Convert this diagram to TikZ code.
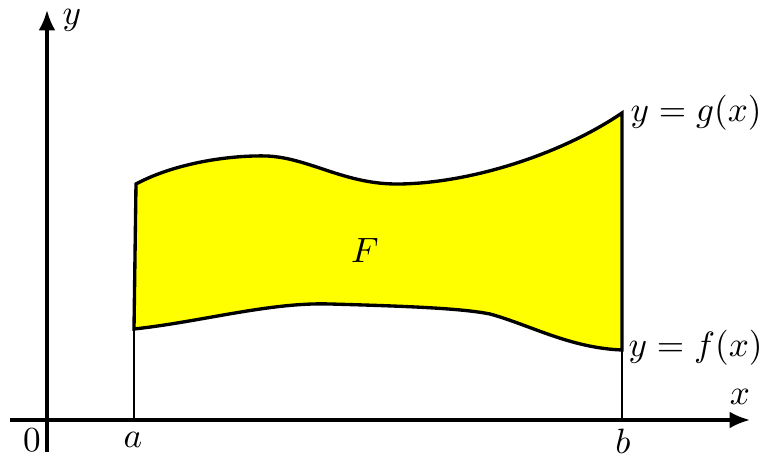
\documentclass[tikz,border=0pt]{standalone}
\usetikzlibrary{arrows.meta}
\definecolor{fillyel}{RGB}{255,255,0}
\begin{document}
\begin{tikzpicture}[x=0.01cm,y=-0.01cm,
  axis/.style={line width=0.95pt,-{Latex[length=5.8pt,width=4.8pt]}},
  curve/.style={line width=0.95pt},
  guide/.style={line width=0.3pt},
  lbl/.style={inner sep=0pt}]
\useasboundingbox (0,0) rectangle (759,455);
\coordinate (tl) at (136,184);
\coordinate (bl) at (134,329);
\coordinate (tr) at (622,113);
\coordinate (br) at (622,350);
\coordinate (xa) at (134,420);
\coordinate (xb) at (622,420);
\fill[fillyel] (tl) .. controls (175,163) and (230,155) .. (267,156)
  .. controls (310,158) and (345,185) .. (400,184)
  .. controls (470,183) and (560,155) .. (tr)
  -- (br) .. controls (570,348) and (530,325) .. (490,314)
  .. controls (460,308) and (400,306) .. (330,304)
  .. controls (270,302) and (200,322) .. (bl) -- cycle;
\draw[guide] (bl) -- (xa);
\draw[guide] (br) -- (xb);
\draw[curve] (tl) .. controls (175,163) and (230,155) .. (267,156)
  .. controls (310,158) and (345,185) .. (400,184)
  .. controls (470,183) and (560,155) .. (tr)
  -- (br) .. controls (570,348) and (530,325) .. (490,314)
  .. controls (460,308) and (400,306) .. (330,304)
  .. controls (270,302) and (200,322) .. (bl) -- cycle;
\coordinate (xs) at (10,420);
\coordinate (xe) at (750,420);
\coordinate (ys) at (47,452);
\coordinate (ye) at (47,10);
\draw[axis] (xs) -- (xe);
\draw[axis] (ys) -- (ye);
\node[lbl] (ylab) at (72,20) {$y$};
\node[lbl] (xlab) at (740,397) {$x$};
\node[lbl] (zero) at (32,440) {$0$};
\node[lbl] (alab) at (133,440) {$a$};
\node[lbl] (blab) at (623,441) {$b$};
\node[lbl] (F) at (365,250) {$F$};
\node[lbl,anchor=west] (g) at (630,113) {$y=g(x)$};
\node[lbl,anchor=west] (f) at (628,348) {$y=f(x)$};
\end{tikzpicture}
\end{document}
